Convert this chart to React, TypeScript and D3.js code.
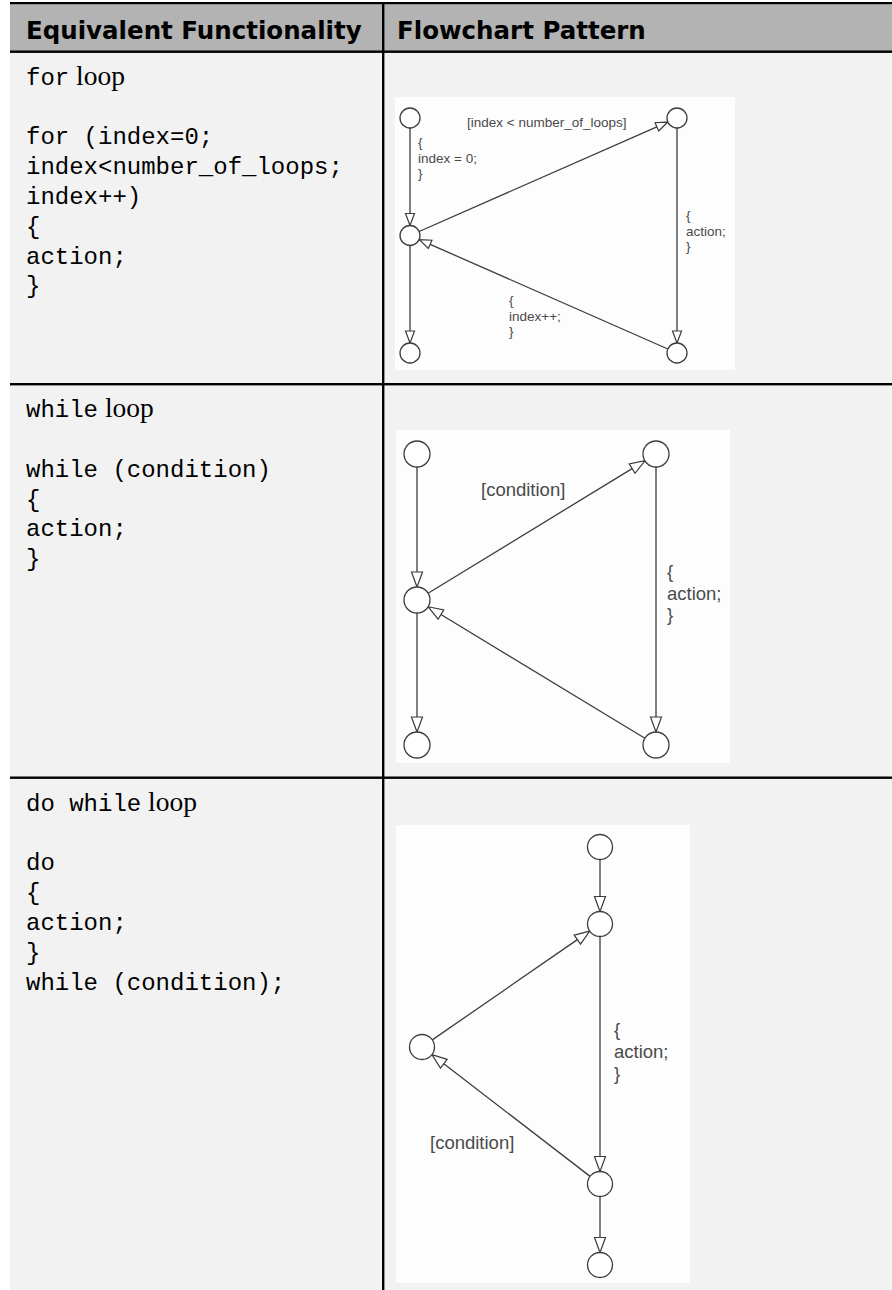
import React from "react";
import * as d3 from "d3";

// ---------- Table data ----------
const columnHeaders = ["Equivalent Functionality", "Flowchart Pattern"];
const rowTitleMono = ["for", "while", "do while"];
const rowTitleSerif = ["loop", "loop", "loop"];
const forCode = ["for (index=0;", "index<number_of_loops;", "index++)", "{", "action;", "}"];
const whileCode = ["while (condition)", "{", "action;", "}"];
const doWhileCode = ["do", "{", "action;", "}", "while (condition);"];
const rowCodes = [forCode, whileCode, doWhileCode];

// ---------- Diagram data (image-local coordinates) ----------
const forNodes = [
  { id: "tl", x: 15, y: 21 },
  { id: "tr", x: 282, y: 21 },
  { id: "ml", x: 15, y: 138.5 },
  { id: "bl", x: 15, y: 256 },
  { id: "br", x: 282, y: 256 },
];
const forEdges = [
  ["tl", "ml"],
  ["ml", "tr"],
  ["tr", "br"],
  ["br", "ml"],
  ["ml", "bl"],
];
const forLabels = [
  { x: 72, y: 29.5, lines: ["[index < number_of_loops]"] },
  { x: 23, y: 50, lines: ["{", "index = 0;", "}"] },
  { x: 291, y: 123, lines: ["{", "action;", "}"] },
  { x: 114, y: 208, lines: ["{", "index++;", "}"] },
];

const whileNodes = [
  { id: "tl", x: 21, y: 24 },
  { id: "tr", x: 260, y: 24 },
  { id: "ml", x: 21, y: 170 },
  { id: "bl", x: 21, y: 315 },
  { id: "br", x: 260, y: 315 },
];
const whileEdges = [
  ["tl", "ml"],
  ["ml", "tr"],
  ["tr", "br"],
  ["br", "ml"],
  ["ml", "bl"],
];
const whileLabels = [
  { x: 85, y: 66, lines: ["[condition]"] },
  { x: 271, y: 148, lines: ["{", "action;", "}"] },
];

const doNodes = [
  { id: "t", x: 204, y: 22 },
  { id: "s", x: 204, y: 99 },
  { id: "l", x: 26, y: 222 },
  { id: "m", x: 204, y: 359 },
  { id: "b", x: 204, y: 440 },
];
const doEdges = [
  ["t", "s"],
  ["s", "m"],
  ["m", "l"],
  ["l", "s"],
  ["m", "b"],
];
const doLabels = [
  { x: 218, y: 211, lines: ["{", "action;", "}"] },
  { x: 34, y: 324, lines: ["[condition]"] },
];

const diagrams = [
  { box: [395, 97, 340, 273], nodes: forNodes, edges: forEdges, labels: forLabels, r: 10, font: 13.5, lh: 15.5, aLen: 12, aHw: 4.5 },
  { box: [396, 430, 334, 333], nodes: whileNodes, edges: whileEdges, labels: whileLabels, r: 13, font: 18.5, lh: 21.5, aLen: 15, aHw: 5.5 },
  { box: [396, 825, 294, 458], nodes: doNodes, edges: doEdges, labels: doLabels, r: 12.5, font: 18.5, lh: 22, aLen: 15, aHw: 5.5 },
];

// ---------- Layout ----------
const W = 892;
const H = 1290;
const tableX = 10;
const colX = 383.2;
const rowLines = [51.7, 384.2, 777.7];
const MONO = "'Liberation Mono', 'DejaVu Sans Mono', monospace";
const SERIF = "'Liberation Serif', 'DejaVu Serif', serif";
const SANS = "'Liberation Sans', Arial, sans-serif";
const LINE = "#3c3c3c";

function Diagram({ d }: { d: any }) {
  const [bx, by, bw, bh] = d.box;
  const sx = d3.scaleLinear().domain([0, bw]).range([bx, bx + bw]);
  const sy = d3.scaleLinear().domain([0, bh]).range([by, by + bh]);
  const byId = new Map(d.nodes.map((n: any) => [n.id, n]));
  const line = d3.line<[number, number]>();
  return (
    <g>
      <rect x={bx} y={by} width={bw} height={bh} fill="#fdfdfd" />
      {d.edges.map(([a, b]: string[], i: number) => {
        const na: any = byId.get(a);
        const nb: any = byId.get(b);
        const x1 = sx(na.x), y1 = sy(na.y), x2 = sx(nb.x), y2 = sy(nb.y);
        const dx = x2 - x1, dy = y2 - y1;
        const len = Math.hypot(dx, dy);
        const ux = dx / len, uy = dy / len;
        const px = -uy, py = ux;
        const sxp = x1 + ux * d.r, syp = y1 + uy * d.r;
        const tx = x2 - ux * d.r, ty = y2 - uy * d.r;
        const baseX = tx - ux * d.aLen, baseY = ty - uy * d.aLen;
        const tri: [number, number][] = [
          [tx, ty],
          [baseX + px * d.aHw, baseY + py * d.aHw],
          [baseX - px * d.aHw, baseY - py * d.aHw],
        ];
        return (
          <g key={i}>
            <path d={line([[sxp, syp], [baseX, baseY]]) || ""} stroke={LINE} strokeWidth={1.3} fill="none" />
            <path d={(line(tri) || "") + "Z"} stroke={LINE} strokeWidth={1.2} fill="#ffffff" />
          </g>
        );
      })}
      {d.nodes.map((n: any) => (
        <circle key={n.id} cx={sx(n.x)} cy={sy(n.y)} r={d.r} fill="#ffffff" stroke={LINE} strokeWidth={1.3} />
      ))}
      {d.labels.map((lb: any, i: number) => (
        <text key={i} fontFamily={SANS} fontSize={d.font} fill="#4a4a4a">
          {lb.lines.map((t: string, k: number) => (
            <tspan key={k} x={sx(lb.x)} y={sy(lb.y) + k * d.lh}>
              {t}
            </tspan>
          ))}
        </text>
      ))}
    </g>
  );
}

export default function App() {
  return (
    <svg width={W} height={H} style={{ position: "absolute", left: 0, top: 0, background: "#fff" }}>
      <rect x={0} y={0} width={W} height={H} fill="#ffffff" />
      <rect x={tableX} y={4} width={W - tableX} height={rowLines[0] - 4} fill="#b3b3b3" />
      <rect x={tableX} y={rowLines[0]} width={W - tableX} height={H - rowLines[0]} fill="#f2f2f2" />
      <rect x={tableX} y={2} width={W - tableX} height={2.2} fill="#000" />
      {rowLines.map((y, i) => (
        <rect key={i} x={tableX} y={y - 1.2} width={W - tableX} height={2.4} fill="#000" />
      ))}
      <rect x={colX - 1.2} y={4} width={2.4} height={H - 4} fill="#000" />
      <text x={26} y={38.5} fontFamily="'DejaVu Sans', sans-serif" fontWeight="bold" fontSize={24.5} fill="#000">
        {columnHeaders[0]}
      </text>
      <text x={397} y={38.5} fontFamily="'DejaVu Sans', sans-serif" fontWeight="bold" fontSize={24.5} fill="#000">
        {columnHeaders[1]}
      </text>
      {rowCodes.map((code, i) => {
        const base = rowLines[i] + 33;
        const lh = 29.8;
        return (
          <g key={i}>
            <text y={base} fill="#000">
              <tspan x={26} fontFamily={MONO} fontSize={24} style={{ whiteSpace: "pre" }}>{rowTitleMono[i]}</tspan>
              <tspan fontFamily={SERIF} fontSize={27.5}>{" " + rowTitleSerif[i]}</tspan>
            </text>
            <text fontFamily={MONO} fontSize={24} fill="#000">
              {code.map((c, k) => (
                <tspan key={k} x={26} y={base + (k + 2) * lh} style={{ whiteSpace: "pre" }}>
                  {c}
                </tspan>
              ))}
            </text>
          </g>
        );
      })}
      {diagrams.map((d, i) => (
        <Diagram key={i} d={d} />
      ))}
    </svg>
  );
}
